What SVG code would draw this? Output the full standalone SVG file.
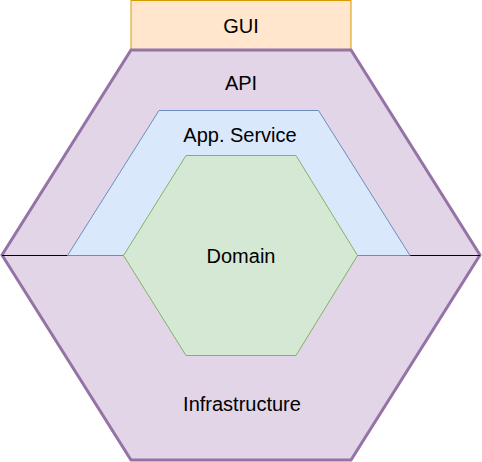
<svg xmlns="http://www.w3.org/2000/svg" width="482" height="462" viewBox="0 0 482 462">
<style>
text{font-family:"Liberation Sans",Arial,sans-serif;font-size:20px;fill:#000;text-anchor:middle}
</style>
<rect width="482" height="462" fill="#ffffff"/>
<g id="gui">
<rect x="131" y="0.5" width="220" height="49" fill="#ffe6cc" stroke="#d79b00" stroke-width="1"/>
<text x="241" y="32.5">GUI</text>
</g>
<g id="infrastructure">
<polygon points="131,50 351,50 480,255 351,460 131,460 2,255" fill="#e1d5e7" stroke="#9673a6" stroke-width="3" stroke-linejoin="miter"/>
<text x="242" y="411">Infrastructure</text>
</g>
<g id="api">
<text x="241" y="90">API</text>
</g>
<g id="connectors">
<line x1="2" y1="255.5" x2="480" y2="255.5" stroke="#000000" stroke-width="1"/>
</g>
<g id="app-service">
<polygon points="159,110.5 318.5,110.5 410,255.5 67.5,255.5" fill="#dae8fc" stroke="#6c8ebf" stroke-width="1"/>
<text x="240" y="141.5">App. Service</text>
</g>
<g id="domain">
<polygon points="186,155.5 296,155.5 357.5,255.5 296,355.5 186,355.5 123.5,255.5" fill="#d5e8d4" stroke="#82b366" stroke-width="1"/>
<text x="241" y="263">Domain</text>
</g>
</svg>
